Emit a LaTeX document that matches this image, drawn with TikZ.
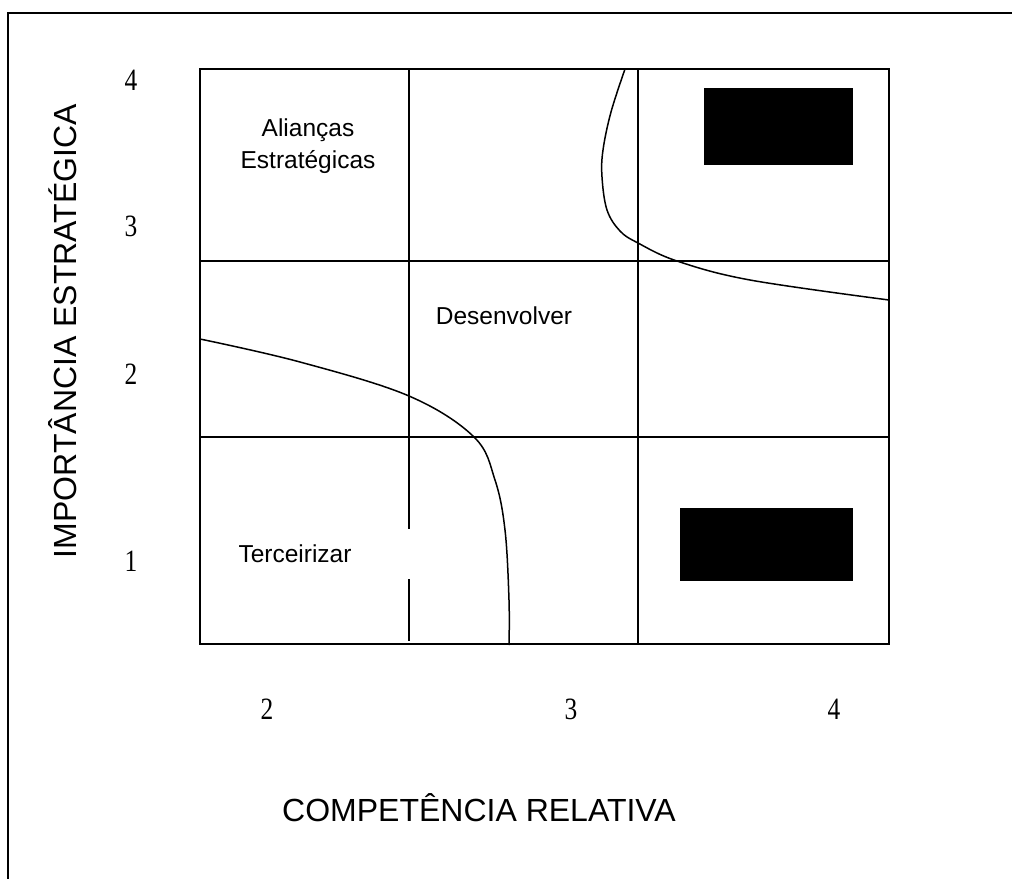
\documentclass[tikz,border=0pt]{standalone}
\usepackage{fontspec}
\setmainfont{Liberation Serif}
\setsansfont{Liberation Sans}
\begin{document}
\begin{tikzpicture}[x=1pt,y=-1pt,
  gridline/.style={line width=1.6pt,black},
  curveline/.style={line width=1.5pt,black},
  framebox/.style={line width=1.8pt,black},
  digit/.style={font=\fontsize{31}{31}\selectfont\rmfamily,inner sep=0pt,xscale=0.82},
  axislabel/.style={font=\fontsize{32}{32}\selectfont\sffamily,inner sep=0pt},
  celllabel/.style={font=\fontsize{24.5}{32}\selectfont\sffamily,inner sep=0pt,align=center}]
\useasboundingbox (0,0) rectangle (1012,879);
% outer frame (top and left)
\draw[framebox] (1012,13) -- (8,13) -- (8,879);
% grid
\draw[gridline] (200,69) rectangle (889,644);
\draw[gridline] (200,261) -- (889,261);
\draw[gridline] (200,437) -- (889,437);
\draw[gridline] (638,69) -- (638,644);
\draw[gridline] (409,69) -- (409,529);
\draw[gridline] (409,579) -- (409,641);
% black boxes
\fill[black] (704,88) rectangle (853,165);
\fill[black] (680,508) rectangle (853,581);
% curves
\draw[curveline] plot[smooth,tension=0.6] coordinates {(200,339) (300,362) (409,396) (474,437) (495,480) (505,530) (509,600) (509,645)};
\draw[curveline] plot[smooth,tension=0.6] coordinates {(625,69) (611,112) (603,150) (602,177) (607,210) (620,231) (638,243) (677,261) (750,280) (889,300)};
% y digits
\node[digit] (y4) at (131,80) {4};
\node[digit] (y3) at (131,226) {3};
\node[digit] (y2) at (131,374) {2};
\node[digit] (y1) at (131,561) {1};
% x digits
\node[digit] (x2) at (267,709) {2};
\node[digit] (x3) at (571,709) {3};
\node[digit] (x4) at (834,709) {4};
% axis labels
\node[axislabel,rotate=90] (ylab) at (63,331) {IMPORTÂNCIA ESTRATÉGICA};
\node[axislabel] (xlab) at (479,808) {COMPETÊNCIA RELATIVA};
% cell labels
\node[celllabel] (alianca) at (308,146) {Alianças\\Estratégicas};
\node[celllabel] (desenv) at (504,316) {Desenvolver};
\node[celllabel] (terc) at (295,554) {Terceirizar};
\end{tikzpicture}
\end{document}
